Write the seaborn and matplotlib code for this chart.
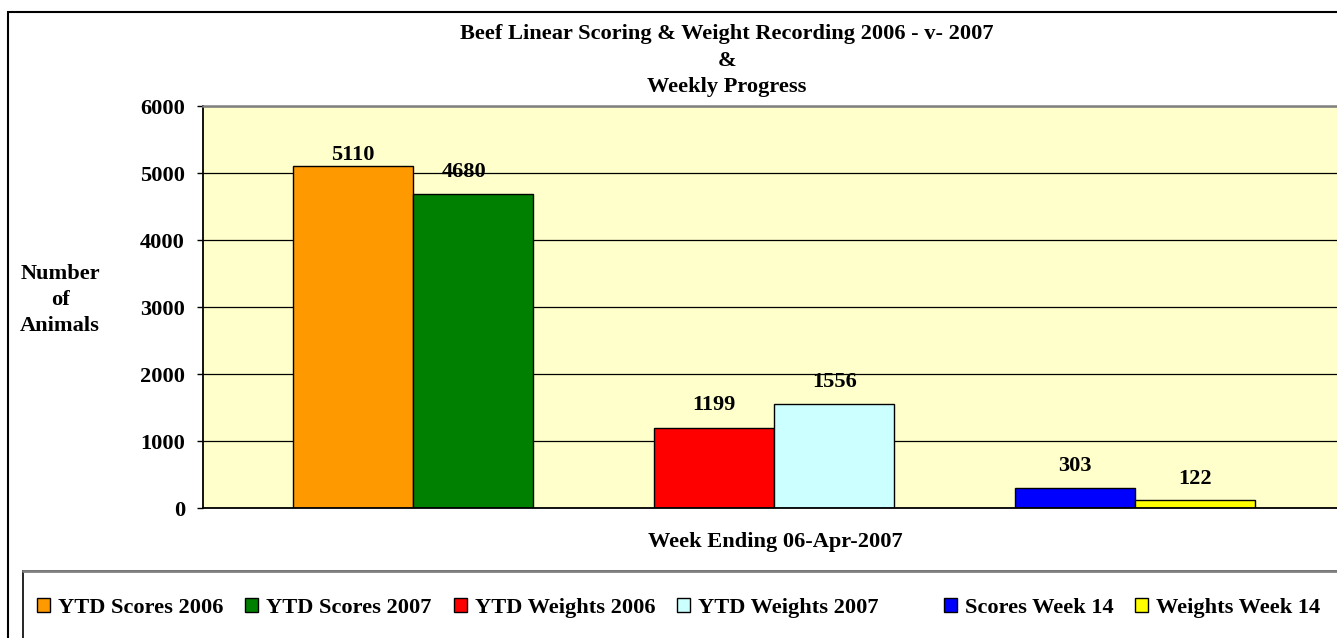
import pandas as pd
import matplotlib.pyplot as plt
import seaborn as sns
from matplotlib.patches import Patch, Rectangle
from matplotlib.lines import Line2D

# chart data
series = ['YTD Scores 2006', 'YTD Scores 2007', 'YTD Weights 2006',
          'YTD Weights 2007', 'Scores Week 14', 'Weights Week 14']
values = [5110, 4680, 1199, 1556, 303, 122]
colors = ['#FF9900', '#008000', '#FF0000', '#CCFFFF', '#0000FF', '#FFFF00']
yticks = [0, 1000, 2000, 3000, 4000, 5000, 6000]

title = 'Beef Linear Scoring & Weight Recording 2006 - v- 2007\n&\nWeekly Progress'
xlabel = 'Week Ending 06-Apr-2007'
ylabel = 'Number\nof\nAnimals'

# blank series slots leave the gaps between pairs of bars
order = [series[0], series[1], ' ', series[2], series[3], '  ', series[4], series[5]]

# label offsets in pixels (dx, dy) from bar top
label_dx = [0, -9, 0, 0, 0, 0]
label_dy = [11, 22, 23, 22, 22, 21]

W, H = 1337, 638
FS = 16.1

sns.set_theme(style='white')
plt.rcParams['font.family'] = ['Liberation Serif', 'DejaVu Serif']
plt.rcParams['font.weight'] = 'bold'
plt.rcParams['text.color'] = 'black'
plt.rcParams['axes.labelcolor'] = 'black'

df = pd.DataFrame({'series': series, 'value': values})
palette = dict(zip(series, colors))

fig = plt.figure(figsize=(W / 100, H / 100), dpi=100)
fig.patch.set_facecolor('white')

# outer chart border (extends beyond the image on right and bottom)
fig.patches.append(Rectangle((8 / W, -0.1), 1.2, 1 - 12 / H + 0.1, transform=fig.transFigure,
                             fill=False, edgecolor='black', lw=1.5, zorder=0))

left, right, top, bottom = 203, 1345, 106, 508
ax = fig.add_axes([left / W, 1 - bottom / H, (right - left) / W, (bottom - top) / H])
ax.set_facecolor('#FFFFCC')

sns.barplot(data=df, x='series', y='value', order=order, hue='series', hue_order=series,
            palette=palette, dodge=False, width=1.0, edgecolor='black', linewidth=1,
            saturation=1, legend=False, ax=ax)

ax.set_xlim(-1.248, 8.248)
ax.set_ylim(0, 6000)
ax.set_yticks(yticks)
ax.set_xticks([])
ax.set_xlabel('')
ax.set_ylabel('')
ax.yaxis.grid(True, color='black', lw=0.9)
ax.set_axisbelow(True)
ax.tick_params(axis='y', left=True, length=4.3, width=1, pad=8.6, labelsize=FS, colors='black')
for lbl in ax.get_yticklabels():
    lbl.set_fontweight('bold')

for side in ['left', 'bottom']:
    ax.spines[side].set_color('black')
    ax.spines[side].set_linewidth(1.3)
ax.spines['top'].set_color('#808080')
ax.spines['top'].set_linewidth(1.8)
ax.spines['right'].set_visible(False)

# value labels
for container, dx, dy in zip(ax.containers, label_dx, label_dy):
    for bar in container:
        h = bar.get_height()
        if not h:
            continue
        ax.annotate(f'{int(h)}', (bar.get_x() + bar.get_width() / 2, h),
                    xytext=(dx * 0.72, dy * 0.72), textcoords='offset points',
                    ha='center', va='center', fontsize=FS, fontweight='bold', color='black')

# titles
fig.text(727 / W, 1 - 60.5 / H, title, ha='center', va='center', fontsize=FS,
         fontweight='bold', linespacing=1.42)
fig.text(60 / W, 1 - 300 / H, ylabel, ha='center', va='center', fontsize=FS,
         fontweight='bold', linespacing=1.42, multialignment='center')
fig.text(775 / W, 1 - 542 / H, xlabel, ha='center', va='center', fontsize=FS,
         fontweight='bold')

# legend box
fig.patches.append(Rectangle((23 / W, -0.1), 1.2, 1 - 571 / H + 0.1, transform=fig.transFigure,
                             fill=False, edgecolor='black', lw=1.2, zorder=1))
fig.lines.append(Line2D([23 / W, 1.05], [1 - 571 / H, 1 - 571 / H], transform=fig.transFigure,
                        color='#808080', lw=2, zorder=2))

handles = [Patch(facecolor=c, edgecolor='black', lw=1) for c in colors]
labels = list(series)
blank = Patch(facecolor='none', edgecolor='none')
handles.insert(4, blank)
labels.insert(4, '')
em = FS / 0.72
fig.legend(handles, labels, ncol=7, loc='center left', bbox_to_anchor=(37 / W, 1 - 608 / H),
           frameon=False, borderpad=0, borderaxespad=0, prop={'size': FS, 'weight': 'bold'},
           handlelength=13 / em, handleheight=13 / em, handletextpad=8 / em,
           columnspacing=22 / em)

fig.savefig('out.png', dpi=100)
